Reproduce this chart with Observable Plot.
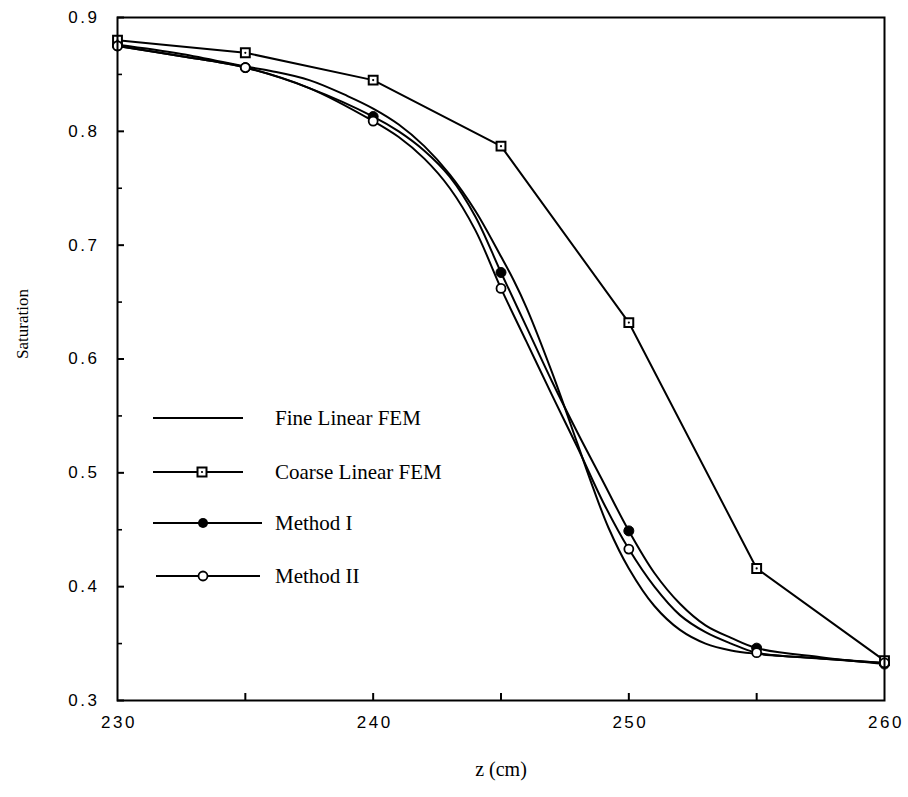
<!DOCTYPE html>
<html><head><meta charset="utf-8">
<script src="https://cdn.jsdelivr.net/npm/d3@7"></script>
<script src="https://cdn.jsdelivr.net/npm/@observablehq/plot@0.6"></script>
<style>
body{margin:0;background:#fff;}
#wrap{position:relative;width:908px;height:797px;}
#legend{position:absolute;left:0;top:0;pointer-events:none;}
</style></head><body><div id="wrap"></div>
<script>
// ---- data ----
const zNodes   = [230, 235, 240, 245, 250, 255, 260];
const coarseS  = [0.880, 0.869, 0.845, 0.787, 0.632, 0.416, 0.335];
const method1S = [0.875, 0.856, 0.813, 0.676, 0.449, 0.346, 0.332];
const method2S = [0.875, 0.856, 0.809, 0.662, 0.433, 0.342, 0.333];

const fineZ = [230, 232.5, 235, 236, 237.5, 239, 240, 241, 242, 243, 244, 245, 245.5, 246, 247, 248, 248.6, 249.2, 250, 251, 252, 253, 254, 255, 256, 258, 260];
const fineS = [0.876, 0.868, 0.857, 0.853, 0.845, 0.831, 0.820, 0.806, 0.787, 0.762, 0.730, 0.690, 0.669, 0.645, 0.588, 0.525, 0.487, 0.452, 0.416, 0.383, 0.362, 0.350, 0.344, 0.341, 0.339, 0.336, 0.333];

const methodCurveZ = [230, 232.5, 235, 237.5, 240, 241, 242, 243, 244, 245, 246, 247, 248, 249, 250, 251, 252, 253, 254, 255, 257.5, 260];
const method1CurveS = [0.875, 0.866, 0.856, 0.838, 0.813, 0.800, 0.783, 0.760, 0.725, 0.676, 0.628, 0.580, 0.535, 0.492, 0.449, 0.412, 0.385, 0.366, 0.355, 0.346, 0.338, 0.332];
const method2CurveS = [0.875, 0.866, 0.856, 0.838, 0.809, 0.795, 0.776, 0.750, 0.713, 0.662, 0.615, 0.568, 0.522, 0.474, 0.433, 0.400, 0.375, 0.360, 0.350, 0.342, 0.337, 0.333];

const xTickLabels = [230, 240, 250, 260];
const xTickMarks  = [235, 240, 245, 250, 255];
const yTickLabels = [0.3, 0.4, 0.5, 0.6, 0.7, 0.8, 0.9];
const yTickMinor  = [0.35, 0.45, 0.55, 0.65, 0.75, 0.85];
const seriesNames = ["Fine Linear FEM", "Coarse Linear FEM", "Method I", "Method II"];
const xLabel = "z (cm)";
const yLabel = "Saturation";

// ---- tables ----
const pairs = (zs, ss) => zs.map((z, i) => ({z, s: ss[i]}));
const fine = pairs(fineZ, fineS);
const m1Curve = pairs(methodCurveZ, method1CurveS);
const m2Curve = pairs(methodCurveZ, method2CurveS);
const coarse = pairs(zNodes, coarseS);
const m1 = pairs(zNodes, method1S);
const m2 = pairs(zNodes, method2S);

const W = 908, H = 797, mL = 117, mR = 24, mT = 17, mB = 97;
const innerW = W - mL - mR, innerH = H - mT - mB;
const serif = "'Liberation Serif', 'Times New Roman', serif";
const lw = 2;

const chart = Plot.plot({
  width: W, height: H,
  marginLeft: mL, marginRight: mR, marginTop: mT, marginBottom: mB,
  x: {domain: [230, 260]},
  y: {domain: [0.3, 0.9]},
  style: {fontFamily: "'Liberation Sans', Arial, sans-serif", background: "white", color: "black", letterSpacing: "2.5px"},
  marks: [
    Plot.axisX({ticks: xTickLabels, tickSize: 0, tickPadding: 15, fontSize: 17, label: null, dx: 1.5, tickFormat: d => String(d)}),
    Plot.axisY({ticks: yTickLabels, tickSize: 0, tickPadding: 18, fontSize: 17, label: null, tickFormat: d => d.toFixed(1)}),
    Plot.tickX(xTickMarks, {x: d => d, insetTop: innerH - 7, stroke: "black", strokeWidth: 2}),
    Plot.tickY(yTickLabels, {y: d => d, insetRight: innerW - 7, stroke: "black", strokeWidth: 2}),
    Plot.tickY(yTickMinor, {y: d => d, insetRight: innerW - 5, stroke: "black", strokeWidth: 1.6}),
    Plot.line(fine, {x: "z", y: "s", curve: "catmull-rom", stroke: "black", strokeWidth: lw}),
    Plot.line(m1Curve, {x: "z", y: "s", curve: "catmull-rom", stroke: "black", strokeWidth: lw}),
    Plot.line(m2Curve, {x: "z", y: "s", curve: "catmull-rom", stroke: "black", strokeWidth: lw}),
    Plot.line(coarse, {x: "z", y: "s", stroke: "black", strokeWidth: lw}),
    Plot.dot(coarse, {x: "z", y: "s", symbol: "square", r: 5, fill: "white", stroke: "black", strokeWidth: 2}),
    Plot.dot(coarse, {x: "z", y: "s", r: 1.1, fill: "black"}),
    Plot.dot(m1, {x: "z", y: "s", r: 5, fill: "black", stroke: "black", strokeWidth: 1}),
    Plot.dot(m2, {x: "z", y: "s", r: 4.5, fill: "white", stroke: "black", strokeWidth: 1.8}),
    Plot.frame({stroke: "black", strokeWidth: 2}),
    Plot.text([yLabel], {frameAnchor: "left", dx: -95, rotate: -90, fontSize: 17, fontFamily: serif}),
    Plot.text([xLabel], {frameAnchor: "bottom", dy: 75, fontSize: 20, fontFamily: serif})
  ]
});
d3.select(chart).selectAll('g[aria-label="text"] text').style("letter-spacing", "0px");
document.getElementById("wrap").appendChild(chart);

// ---- legend overlay ----
const legendRows = [
  {name: seriesNames[0], y: 418, x1: 153, x2: 243, mark: null},
  {name: seriesNames[1], y: 472, x1: 153, x2: 243, mark: "square"},
  {name: seriesNames[2], y: 523, x1: 153, x2: 262, mark: "filled"},
  {name: seriesNames[3], y: 576, x1: 156, x2: 260, mark: "open"}
];
const lg = d3.select("#wrap").append("svg").attr("id", "legend").attr("width", W).attr("height", H);
const row = lg.selectAll("g").data(legendRows).join("g");
row.append("line").attr("x1", d => d.x1).attr("x2", d => d.x2).attr("y1", d => d.y).attr("y2", d => d.y)
  .attr("stroke", "black").attr("stroke-width", lw);
row.filter(d => d.mark === "square").each(function(d) {
  const g = d3.select(this);
  g.append("rect").attr("x", 202 - 4.5).attr("y", d.y - 4.5).attr("width", 9).attr("height", 9)
    .attr("fill", "white").attr("stroke", "black").attr("stroke-width", 2);
  g.append("circle").attr("cx", 202).attr("cy", d.y).attr("r", 1.1).attr("fill", "black");
});
row.filter(d => d.mark === "filled").append("circle").attr("cx", 203).attr("cy", d => d.y).attr("r", 5).attr("fill", "black");
row.filter(d => d.mark === "open").append("circle").attr("cx", 203).attr("cy", d => d.y).attr("r", 4.5)
  .attr("fill", "white").attr("stroke", "black").attr("stroke-width", 1.8);
row.append("text").attr("x", 275).attr("y", d => d.y).attr("dy", "0.35em")
  .attr("font-family", serif).attr("font-size", 21).text(d => d.name);
</script></body></html>
